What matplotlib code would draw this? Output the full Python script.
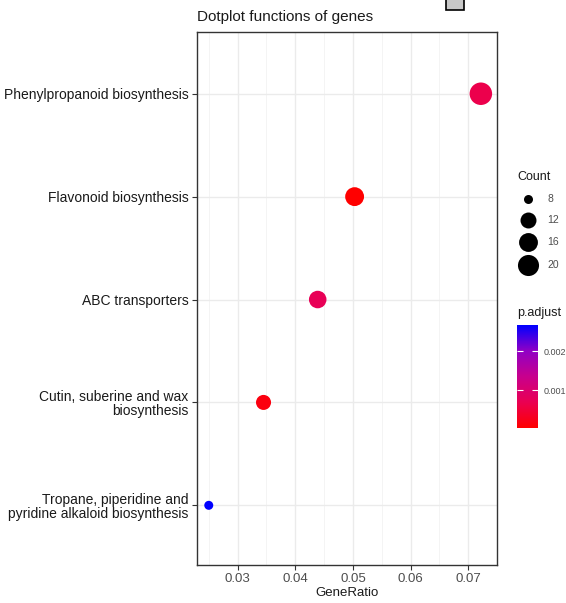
import numpy as np
import matplotlib
matplotlib.use("Agg")
import matplotlib.pyplot as plt
from matplotlib.colors import LinearSegmentedColormap, Normalize
from matplotlib.patches import Rectangle
import matplotlib.colorbar as mcolorbar

plt.rcParams['font.family'] = ['Liberation Sans', 'DejaVu Sans']

# data
pathways = ["Phenylpropanoid biosynthesis",
            "Flavonoid biosynthesis",
            "ABC transporters",
            "Cutin, suberine and wax\nbiosynthesis",
            "Tropane, piperidine and\npyridine alkaloid biosynthesis"]
gene_ratio = [0.0722, 0.0503, 0.0439, 0.0345, 0.0250]
counts = [23, 16, 14, 11, 8]
p_adjust = [0.00064, 0.00003, 0.00074, 0.00016, 0.00267]

count_breaks = [8, 12, 16, 20]
p_ticks = [0.001, 0.002]
x_ticks = [0.03, 0.04, 0.05, 0.06, 0.07]

W, H = 566, 603
DPI = 100

# red -> blue, roughly like ggplot's Lab gradient
cmap = LinearSegmentedColormap.from_list(
    "padj", [(0, "#FF0000"), (0.25, "#EA0052"), (0.5, "#C8008D"),
             (0.75, "#9000C5"), (1, "#0000FF")])
norm = Normalize(vmin=min(p_adjust), vmax=max(p_adjust))

cmin, cmax = min(counts), max(counts)


def marker_size(c):
    # diameter in px, area scale, converted to pt^2
    d = 9 + 13.5 * np.sqrt((c - cmin) / (cmax - cmin))
    return (d * 72 / DPI) ** 2


def fx(px):
    return px / W


def fy(py):
    return 1 - py / H


fig = plt.figure(figsize=(W / DPI, H / DPI), dpi=DPI)
ax = fig.add_axes([fx(197), fy(565), fx(497) - fx(197), fy(32) - fy(565)])

ypos = np.arange(len(pathways))[::-1]
sizes = [marker_size(c) for c in counts]
ax.scatter(gene_ratio, ypos, s=sizes, c=p_adjust, cmap=cmap, norm=norm,
           zorder=3, linewidths=0)

ax.set_xlim(0.02296, 0.07446)
ax.set_ylim(-0.58, 4.6)
ax.set_xticks(x_ticks)
ax.set_xticklabels([f"{v:.2f}" for v in x_ticks])
ax.set_xticks(np.arange(0.025, 0.0751, 0.01), minor=True)
ax.set_yticks(ypos)
ax.set_yticklabels(pathways, fontsize=10, color="#1A1A1A", linespacing=1.05)
ax.tick_params(axis='x', labelsize=9.5, labelcolor="#4D4D4D", pad=2.5)
ax.tick_params(axis='y', pad=2.5)
ax.tick_params(which='major', length=3.5, width=0.8, color="#333333")
ax.tick_params(which='minor', length=0)
ax.grid(True, which='major', color="#EBEBEB", linewidth=1.0, zorder=0)
ax.grid(True, which='minor', axis='x', color="#F2F2F2", linewidth=0.6, zorder=0)
ax.set_axisbelow(True)
for sp in ax.spines.values():
    sp.set_color("#333333")
    sp.set_linewidth(1.0)
ax.set_xlabel("GeneRatio", fontsize=9.5, color="#1A1A1A", labelpad=1)

fig.text(fx(197), fy(17), "Dotplot functions of genes", fontsize=11,
         color="#1A1A1A", ha="left", va="center")

# Count legend
fig.text(fx(517), fy(177), "Count", fontsize=9, color="#1A1A1A",
         ha="left", va="center")
lax = fig.add_axes([fx(508), fy(278), fx(548) - fx(508), fy(188) - fy(278)])
lax.set_xlim(0, 1)
lax.set_ylim(278, 188)
lax.axis("off")
leg_y = [199, 220, 242, 265]
for c, yy in zip(count_breaks, leg_y):
    lax.scatter([0.5], [yy], s=marker_size(c), color="black", linewidths=0)
    fig.text(fx(547), fy(yy), str(c), fontsize=7.5, color="#4D4D4D",
             ha="left", va="center")

# p.adjust colorbar
fig.text(fx(517), fy(313), "p.adjust", fontsize=9, color="#1A1A1A",
         ha="left", va="center")
cax = fig.add_axes([fx(517), fy(428), fx(538) - fx(517), fy(325) - fy(428)])
cb = mcolorbar.ColorbarBase(cax, cmap=cmap, norm=norm, orientation="vertical")
cb.outline.set_visible(False)
cb.set_ticks(p_ticks)
cb.set_ticklabels([f"{v:.3f}" for v in p_ticks])
cax.tick_params(length=4, width=0.8, color="white", direction="in",
                labelsize=6.5, labelcolor="#4D4D4D", pad=4,
                left=True, right=True)

# small grey box at the top edge of the screenshot
fig.patches.append(Rectangle((fx(446), fy(10)), fx(18), 0.03,
                             transform=fig.transFigure, facecolor="#C8C8C8",
                             edgecolor="black", linewidth=1.2))

fig.savefig("out.png", dpi=DPI)
